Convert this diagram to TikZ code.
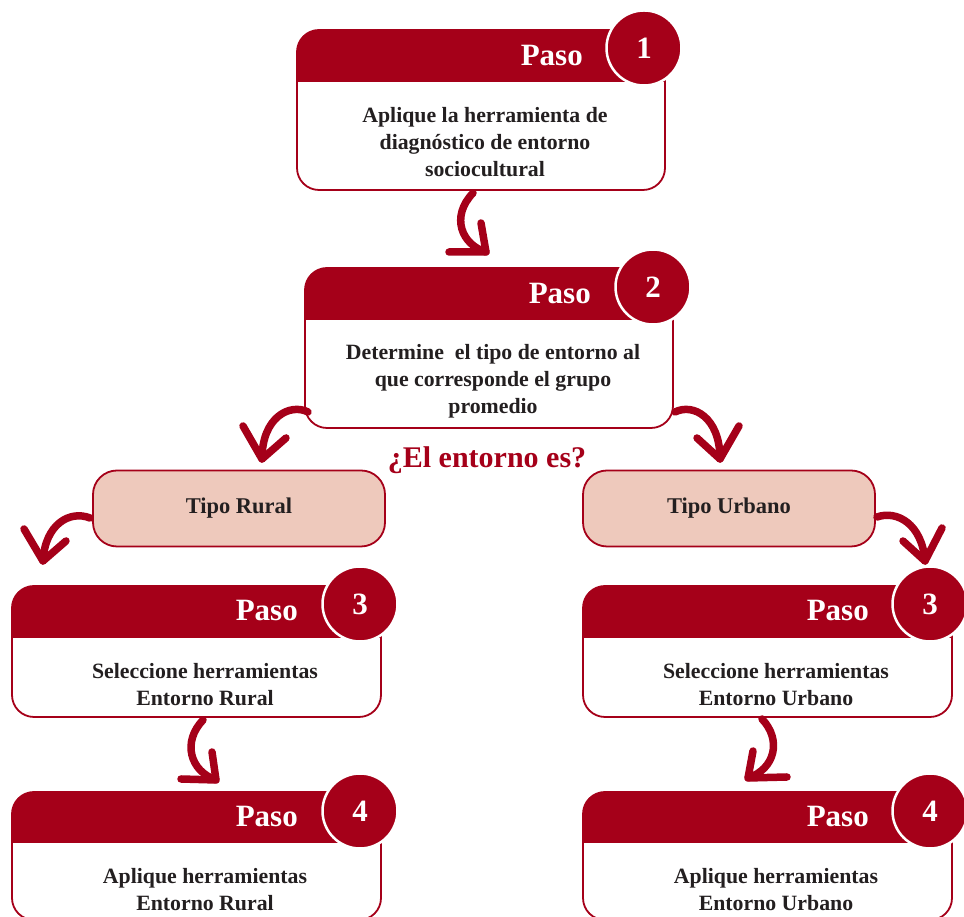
\documentclass[tikz,border=0pt]{standalone}
\usepackage{fontspec}
\setmainfont{Liberation Serif}
\definecolor{boxred}{HTML}{A50019}
\definecolor{pinkfill}{HTML}{EEC9BC}
\definecolor{darktext}{HTML}{231F20}
\tikzset{
  outline/.style={draw=boxred, line width=1.8pt, fill=white, rounded corners=22pt},
  numcircle/.style={circle, fill=boxred, draw=white, line width=2.5pt, minimum size=75pt, inner sep=0pt,
     text=white, font=\fontsize{31}{31}\selectfont\bfseries},
  pasotext/.style={text=white, font=\fontsize{31}{31}\selectfont\bfseries, anchor=east, inner sep=0pt},
  bodytext/.style={text=darktext, font=\fontsize{21.8}{27}\selectfont\bfseries, align=center, inner sep=0pt},
  typebox/.style={draw=boxred, line width=1.8pt, fill=pinkfill, rounded corners=24pt,
     minimum width=292pt, minimum height=76pt, text=darktext, font=\fontsize{22.5}{27}\selectfont\bfseries},
  curl/.style={draw=boxred, line width=7.5pt, line cap=round, line join=round},
}
% #1 name, #2 L, #3 R, #4 T, #5 H, #6 B
\newcommand\pasoframe[6]{%
  \draw[outline] (#2,#4) rectangle (#3,#6);
  \fill[boxred] (#2,#5) -- (#2,#4-22) arc[start angle=180,end angle=90,radius=22pt] -- (#3,#4) -- (#3,#5) -- cycle;
  \coordinate (#1-nw) at (#2,#4);
  \coordinate (#1-se) at (#3,#6);
}
\begin{document}
\begin{tikzpicture}[x=1pt,y=1pt]
\useasboundingbox (0,0) rectangle (964,917);

% Step 1
\pasoframe{b1}{297}{665}{887}{835}{727}
\node[pasotext] (p1) at (583,861) {Paso};
\node[numcircle] (c1) at (644,869) {1};
\node[bodytext] (t1) at (485,775) {Aplique la herramienta de\\diagnóstico de entorno\\sociocultural};

% Step 2
\pasoframe{b2}{305}{673}{649}{597}{489}
\node[pasotext] (p2) at (591,623) {Paso};
\node[numcircle] (c2) at (653,630) {2};
\node[bodytext] (t2) at (493,536) {Determine\ \ el tipo de entorno al\\que corresponde el grupo\\promedio};

% Question
\node[text=boxred, font=\fontsize{30}{30}\selectfont\bfseries, inner sep=0pt] (q) at (487,457) {¿El entorno es?};

% Types
\node[typebox] (rural) at (239,408.5) {Tipo Rural};
\node[typebox] (urban) at (729,408.5) {Tipo Urbano};

% Step 3 left
\pasoframe{b3l}{12}{381}{331}{279}{200}
\node[pasotext] (p3l) at (298,306) {Paso};
\node[numcircle] (c3l) at (360,313) {3};
\node[bodytext] (t3l) at (205,232.5) {Seleccione herramientas\\Entorno Rural};

% Step 3 right
\pasoframe{b3r}{583}{952}{331}{279}{200}
\node[pasotext] (p3r) at (869,306) {Paso};
\node[numcircle] (c3r) at (930,313) {3};
\node[bodytext] (t3r) at (776,232.5) {Seleccione herramientas\\Entorno Urbano};

% Step 4 left
\pasoframe{b4l}{12}{381}{125}{74}{-3}
\node[pasotext] (p4l) at (298,100) {Paso};
\node[numcircle] (c4l) at (360,106) {4};
\node[bodytext] (t4l) at (205,27) {Aplique herramientas\\Entorno Rural};

% Step 4 right
\pasoframe{b4r}{583}{952}{125}{74}{-3}
\node[pasotext] (p4r) at (869,100) {Paso};
\node[numcircle] (c4r) at (930,106) {4};
\node[bodytext] (t4r) at (776,27) {Aplique herramientas\\Entorno Urbano};

% Curly arrows
% 1 -> 2
\coordinate (a1s) at (473,724); \coordinate (a1t) at (486,665);
\draw[curl] (a1s) .. controls (450,700) and (462,672) .. (a1t);
\draw[curl] (481,694) -- (a1t) -- (449,665);
% 2 -> rural
\coordinate (aLs) at (308,505); \coordinate (aLt) at (262,458);
\draw[curl] (aLs) .. controls (290,514) and (262,500) .. (aLt);
\draw[curl] (243,491) -- (aLt) -- (286,479);
% 2 -> urban
\coordinate (aRs) at (675,505); \coordinate (aRt) at (720,458);
\draw[curl] (aRs) .. controls (693,514) and (720,500) .. (aRt);
\draw[curl] (697,479) -- (aRt) -- (739,491);
% rural -> 3 left
\coordinate (aL2s) at (90,399); \coordinate (aL2t) at (43,356);
\draw[curl] (aL2s) .. controls (70,407) and (45,393) .. (aL2t);
\draw[curl] (24,388) -- (aL2t) -- (66,376);
% urban -> 3 right
\coordinate (aR2s) at (877,400); \coordinate (aR2t) at (925,356);
\draw[curl] (aR2s) .. controls (897,407) and (922,393) .. (aR2t);
\draw[curl] (903,376) -- (aR2t) -- (942,389);
% 3 left -> 4 left
\coordinate (aDls) at (203,197); \coordinate (aDlt) at (216,137);
\draw[curl] (aDls) .. controls (182,175) and (190,146) .. (aDlt);
\draw[curl] (212,165) -- (aDlt) -- (181,138);
% 3 right -> 4 right
\coordinate (aDrs) at (762,198); \coordinate (aDrt) at (748,139);
\draw[curl] (aDrs) .. controls (782,177) and (775,148) .. (aDrt);
\draw[curl] (753,166) -- (aDrt) -- (787,140);
\end{tikzpicture}
\end{document}
